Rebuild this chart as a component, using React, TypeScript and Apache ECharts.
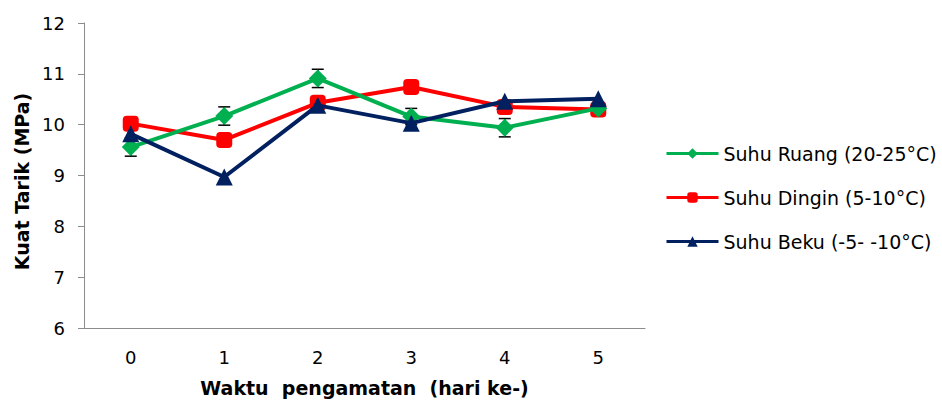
import React, { useEffect, useRef } from "react";
import * as echarts from "echarts";

const days = ["0", "1", "2", "3", "4", "5"];
const suhuRuang = [9.56, 10.17, 10.91, 10.16, 9.94, 10.32];
const suhuRuangErr = [0.18, 0.18, 0.18, 0.16, 0.18, 0.12];
const suhuDingin = [10.02, 9.7, 10.43, 10.74, 10.35, 10.3];
const suhuBeku = [9.82, 8.97, 10.38, 10.03, 10.46, 10.51];
const seriesNames = ["Suhu Ruang (20-25°C)", "Suhu Dingin (5-10°C)", "Suhu Beku (-5- -10°C)"];
const colors = ["#00b050", "#ff0000", "#002060"];

const FONT = "DejaVu Sans";

export default function App() {
  const ref = useRef<HTMLDivElement>(null);

  useEffect(() => {
    if (!ref.current) return;
    const chart = echarts.init(ref.current, null, { renderer: "svg" });

    const errData = suhuRuang.map((v, i) => [i, v - suhuRuangErr[i], v + suhuRuangErr[i]]);

    chart.setOption({
      animation: false,
      backgroundColor: "#ffffff",
      grid: { left: 84, right: 297, top: 23, bottom: 77, containLabel: false },
      legend: {
        orient: "vertical",
        left: 660,
        top: 138,
        itemWidth: 52,
        itemHeight: 13,
        itemGap: 23,
        lineStyle: { width: 3 },
        textStyle: { fontFamily: FONT, fontSize: 19, lineHeight: 21, color: "#000" },
        data: seriesNames,
      },
      xAxis: {
        type: "category",
        data: days,
        boundaryGap: true,
        axisLine: { lineStyle: { color: "#8c8c8c", width: 1 } },
        axisTick: { show: false },
        axisLabel: { fontFamily: FONT, fontSize: 18, color: "#000", margin: 20 },
        name: "Waktu  pengamatan  (hari ke-)",
        nameLocation: "middle",
        nameGap: 50,
        nameTextStyle: { fontFamily: FONT, fontSize: 19, fontWeight: "bold", color: "#000" },
      },
      yAxis: {
        type: "value",
        min: 6,
        max: 12,
        interval: 1,
        splitLine: { show: false },
        axisLine: { show: true, lineStyle: { color: "#8c8c8c", width: 1 } },
        axisTick: { show: true, length: 6, lineStyle: { color: "#8c8c8c" } },
        axisLabel: { fontFamily: FONT, fontSize: 18, color: "#000", margin: 19 },
        name: "Kuat Tarik (MPa)",
        nameLocation: "middle",
        nameGap: 51,
        nameTextStyle: {
          fontFamily: FONT,
          fontSize: 19,
          fontWeight: "bold",
          color: "#000",
          padding: [0, 12, 0, 0],
        },
      },
      series: [
        {
          name: seriesNames[0],
          type: "line",
          data: suhuRuang,
          symbol: "diamond",
          symbolSize: 18,
          lineStyle: { color: colors[0], width: 4 },
          itemStyle: { color: colors[0] },
          z: 3,
        },
        {
          name: seriesNames[1],
          type: "line",
          data: suhuDingin,
          symbol: "roundRect",
          symbolSize: 16,
          lineStyle: { color: colors[1], width: 4 },
          itemStyle: { color: colors[1] },
          z: 2,
        },
        {
          name: seriesNames[2],
          type: "line",
          data: suhuBeku,
          symbol: "triangle",
          symbolSize: 17,
          lineStyle: { color: colors[2], width: 4 },
          itemStyle: { color: colors[2] },
          z: 4,
        },
        {
          type: "custom",
          name: "error",
          data: errData,
          z: 1,
          silent: true,
          renderItem: (params: any, api: any) => {
            const x = api.value(0);
            const lo = api.coord([x, api.value(1)]);
            const hi = api.coord([x, api.value(2)]);
            const half = 6;
            const style = { stroke: "#000", lineWidth: 1.5 };
            return {
              type: "group",
              children: [
                { type: "line", shape: { x1: lo[0], y1: lo[1], x2: hi[0], y2: hi[1] }, style },
                { type: "line", shape: { x1: lo[0] - half, y1: lo[1], x2: lo[0] + half, y2: lo[1] }, style },
                { type: "line", shape: { x1: hi[0] - half, y1: hi[1], x2: hi[0] + half, y2: hi[1] }, style },
              ],
            };
          },
        },
      ],
    });

    return () => chart.dispose();
  }, []);

  return (
    <div
      ref={ref}
      style={{ position: "fixed", left: 0, top: 0, width: 942, height: 405 }}
    />
  );
}
